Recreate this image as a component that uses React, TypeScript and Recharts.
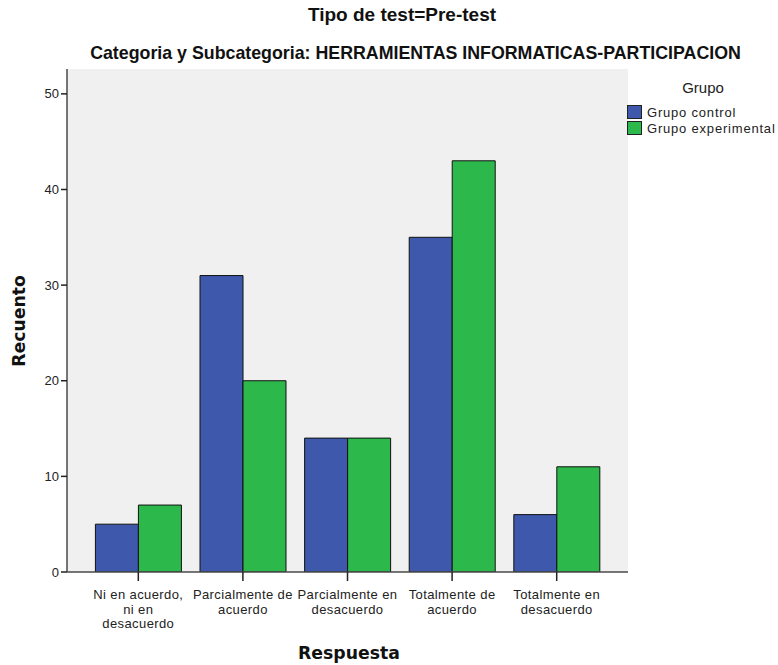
import React from "react";
import { Bar, BarChart, CartesianGrid, XAxis, YAxis } from "recharts";

const categories = [
  "Ni en acuerdo, ni en desacuerdo",
  "Parcialmente de acuerdo",
  "Parcialmente en desacuerdo",
  "Totalmente de acuerdo",
  "Totalmente en desacuerdo",
];
// wrapped tick text, one entry per category
const tickLines = [
  ["Ni en acuerdo,", "ni en", "desacuerdo"],
  ["Parcialmente de", "acuerdo"],
  ["Parcialmente en", "desacuerdo"],
  ["Totalmente de", "acuerdo"],
  ["Totalmente en", "desacuerdo"],
];
const grupoControl = [5, 31, 14, 35, 6];
const grupoExperimental = [7, 20, 14, 43, 11];
const yTicks = [0, 10, 20, 30, 40, 50];
const legendItems = ["Grupo control", "Grupo experimental"];

const data = categories.map((name, i) => ({
  name,
  control: grupoControl[i],
  experimental: grupoExperimental[i],
}));

const BLUE = "#3e58ab";
const GREEN = "#2db84b";
const FRAME = "#4a4a4a";
const SANS = "Arial, 'Liberation Sans', sans-serif";

const CategoryTick = (props: any) => {
  const { x, y, payload } = props;
  const lines = tickLines[payload.index] ?? [payload.value];
  return (
    <text
      x={x}
      y={y + 16}
      textAnchor="middle"
      fontFamily={SANS}
      fontSize={13}
      letterSpacing={0.4}
      fill="#222"
    >
      {lines.map((line: string, i: number) => (
        <tspan key={i} x={x} dy={i === 0 ? 0 : 14.5}>
          {line}
        </tspan>
      ))}
    </text>
  );
};

const LegendBox = () => (
  <div
    style={{
      position: "absolute",
      left: 627,
      top: 79,
      width: 151,
      fontFamily: SANS,
      color: "#222",
    }}
  >
    <div style={{ fontSize: 15, textAlign: "center", width: 152, marginBottom: 8 }}>Grupo</div>
    {legendItems.map((label, i) => (
      <div
        key={label}
        style={{ display: "flex", alignItems: "center", height: 16, fontSize: 13, letterSpacing: 0.8, whiteSpace: "nowrap" }}
      >
        <span
          style={{
            display: "inline-block",
            width: 15,
            height: 14,
            background: i === 0 ? BLUE : GREEN,
            border: "1px solid #222",
            marginRight: 5,
            boxSizing: "border-box",
            flexShrink: 0,
          }}
        />
        {label}
      </div>
    ))}
  </div>
);

export default function App() {
  const axisFont = "'DejaVu Sans', Verdana, sans-serif";
  return (
    <div style={{ position: "absolute", left: 0, top: 0, width: 778, height: 665, background: "#fff" }}>
      <div
        style={{
          position: "absolute",
          left: 0,
          width: 804,
          top: 4,
          textAlign: "center",
          fontFamily: SANS,
          fontWeight: "bold",
          fontSize: 19,
          color: "#111",
        }}
      >
        Tipo de test=Pre-test
      </div>
      <div
        style={{
          position: "absolute",
          left: 0,
          width: 831,
          top: 43,
          textAlign: "center",
          fontFamily: SANS,
          fontWeight: "bold",
          fontSize: 17.8,
          color: "#111",
        }}
      >
        Categoria y Subcategoria: HERRAMIENTAS INFORMATICAS-PARTICIPACION
      </div>
      <div
        style={{
          position: "absolute",
          left: 19,
          top: 321,
          transform: "translate(-50%, -50%) rotate(-90deg)",
          fontFamily: axisFont,
          fontWeight: "bold",
          fontSize: 17.3,
          color: "#111",
          whiteSpace: "nowrap",
        }}
      >
        Recuento
      </div>
      <div
        style={{
          position: "absolute",
          left: 0,
          width: 698,
          top: 643,
          textAlign: "center",
          fontFamily: axisFont,
          fontWeight: "bold",
          fontSize: 17.3,
          color: "#111",
        }}
      >
        Respuesta
      </div>
      <BarChart
        width={778}
        height={665}
        data={data}
        margin={{ top: 69, right: 150, bottom: 33, left: 37 }}
        barCategoryGap="9%"
        barGap={0}
      >
        <CartesianGrid horizontal={false} vertical={false} fill="#f0f0f0" />
        <XAxis
          dataKey="name"
          interval={0}
          height={60}
          padding={{ left: 19, right: 19 }}
          axisLine={{ stroke: FRAME, strokeWidth: 1.5 }}
          tickLine={{ stroke: "#222", strokeWidth: 1.5 }}
          tickSize={9}
          tick={<CategoryTick />}
        />
        <XAxis
          xAxisId="top"
          dataKey="name"
          orientation="top"
          height={0}
          tick={false}
          tickLine={false}
          axisLine={{ stroke: FRAME, strokeWidth: 1.5 }}
        />
        <YAxis
          width={30}
          domain={[0, 52.6]}
          ticks={yTicks}
          allowDataOverflow
          axisLine={{ stroke: FRAME, strokeWidth: 1.5 }}
          tickLine={{ stroke: "#222", strokeWidth: 1.5 }}
          tickSize={6}
          tick={{ fontFamily: SANS, fontSize: 13, fill: "#222" }}
        />
        <YAxis
          yAxisId="right"
          orientation="right"
          width={0}
          domain={[0, 52.6]}
          tick={false}
          tickLine={false}
          axisLine={{ stroke: FRAME, strokeWidth: 1.5 }}
        />
        <Bar dataKey="control" name="Grupo control" fill={BLUE} stroke="#111" strokeWidth={1} isAnimationActive={false} />
        <Bar
          dataKey="experimental"
          name="Grupo experimental"
          fill={GREEN}
          stroke="#111"
          strokeWidth={1}
          isAnimationActive={false}
        />
      </BarChart>
      <LegendBox />
    </div>
  );
}
